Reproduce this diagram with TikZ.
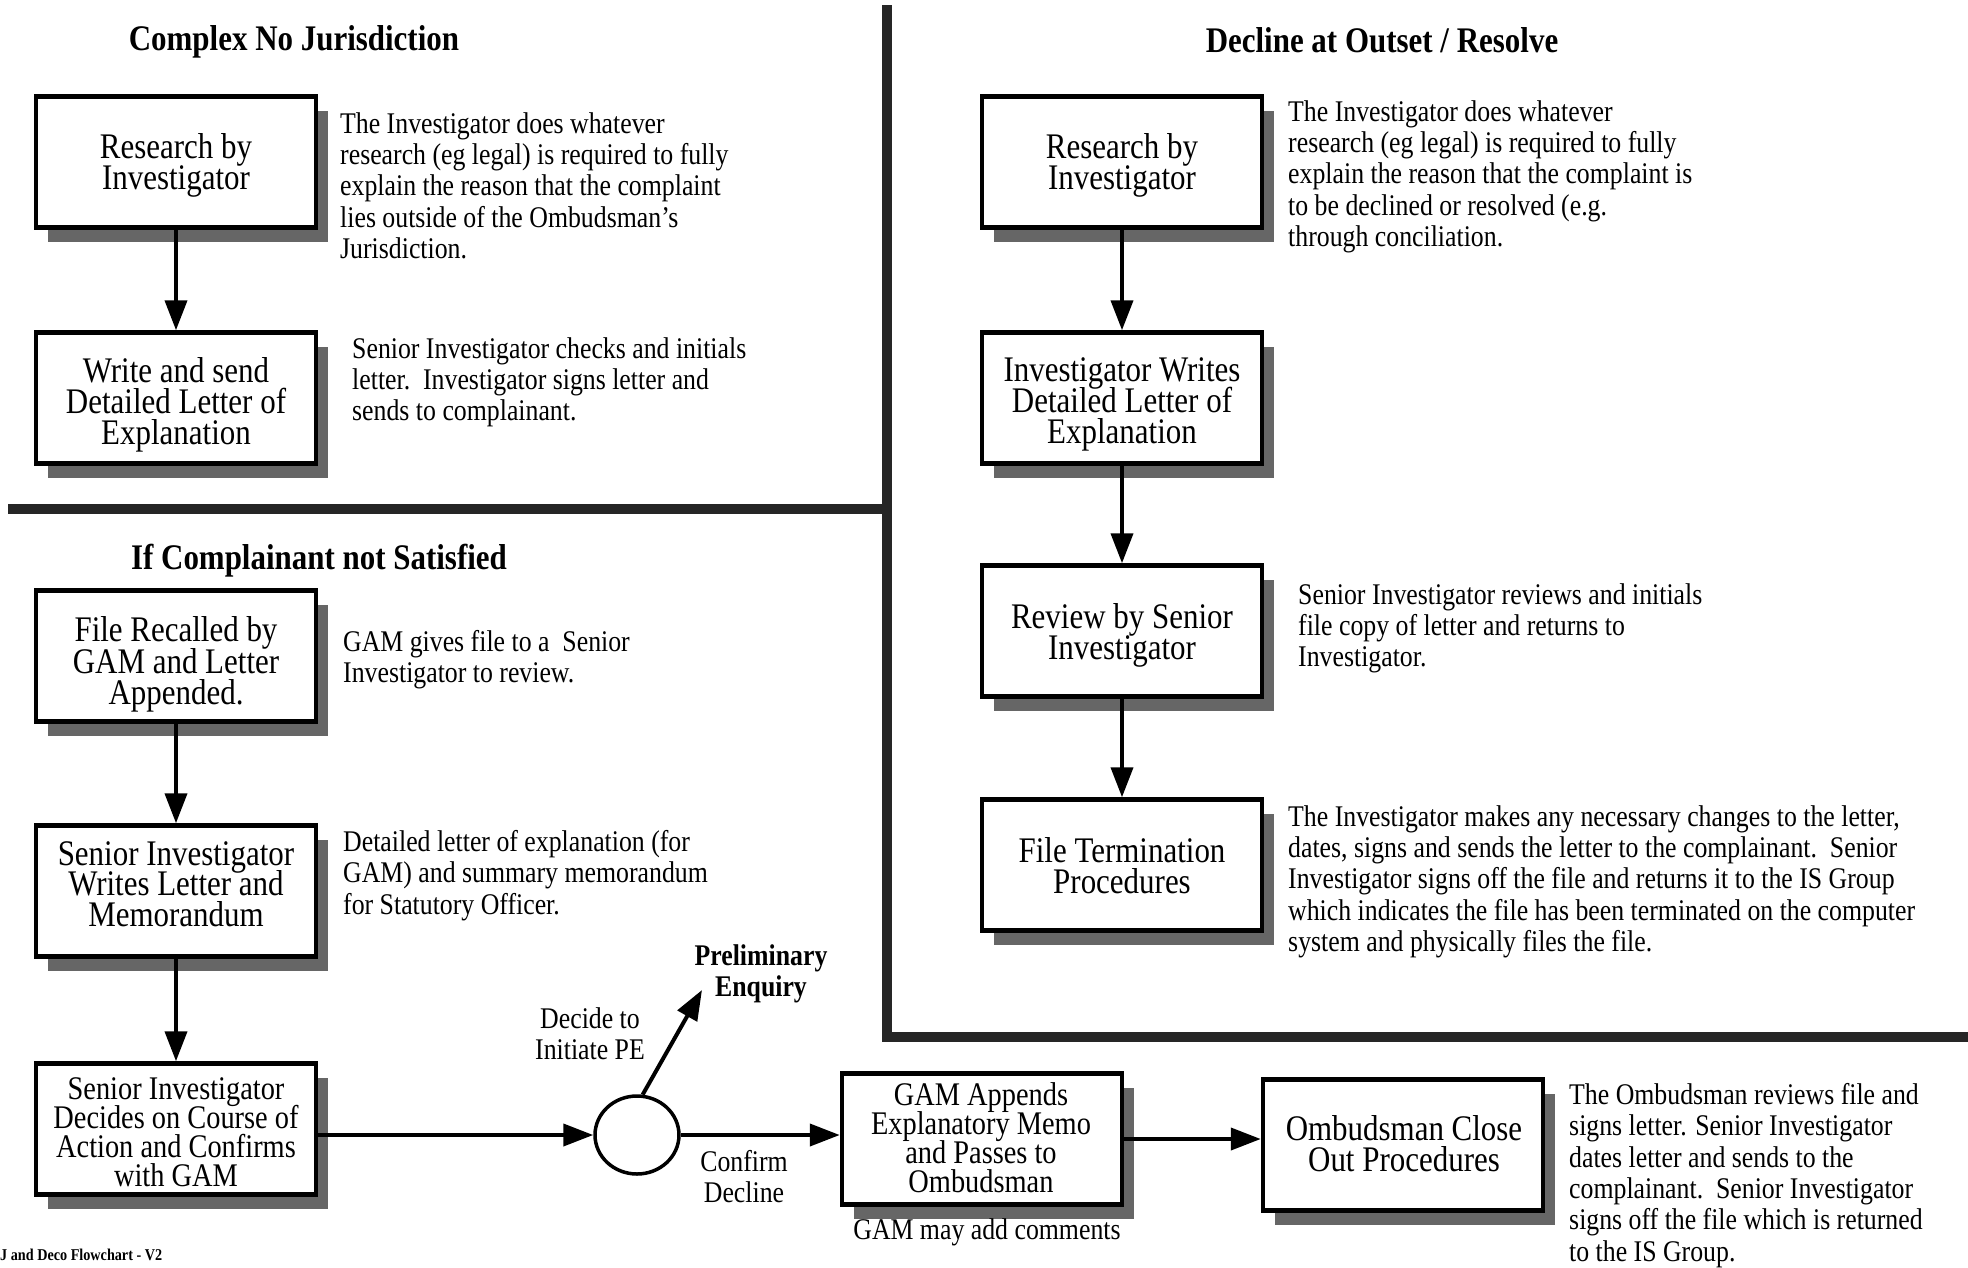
\documentclass[tikz,border=0pt]{standalone}
\usepackage{fontspec}
\setmainfont{Liberation Serif}[FakeStretch=0.86]
\usetikzlibrary{arrows.meta,shadows,shapes.geometric}

\begin{document}
% keep line pitch exactly at the chosen baselineskip
\lineskiplimit=-100pt
\lineskip=0pt
\begin{tikzpicture}[x=1pt,y=-1pt,
  procbox/.style={draw=black, line width=4.5pt, fill=white,
    minimum width=280pt, minimum height=131pt, inner sep=0pt,
    drop shadow={shadow xshift=12pt, shadow yshift=-14pt, fill=black!60, opacity=1}},
  boxtext/.style={anchor=north, inner sep=0pt, align=center,
    font=\fontsize{36}{31.4}\selectfont, execute at begin node={\rule{0pt}{27pt}}},
  boxtextsmall/.style={anchor=north, inner sep=0pt, align=center,
    font=\fontsize{33}{29.3}\selectfont, execute at begin node={\rule{0pt}{25pt}}},
  notetext/.style={anchor=north west, inner sep=0pt, align=left,
    font=\fontsize{30}{31.4}\selectfont},
  headtext/.style={inner sep=0pt, font=\fontsize{36}{38}\selectfont\bfseries},
  edgetext/.style={inner sep=0pt, align=center, font=\fontsize{30}{31}\selectfont},
  boldedge/.style={inner sep=0pt, align=center, font=\fontsize{30}{31}\selectfont\bfseries},
  flowarrow/.style={line width=4pt, -{Triangle[length=30pt,width=22pt]}},
  rulebar/.style={line width=10pt, draw=black!85},
]
\fill[white] (0,0) rectangle (1968,1267);
\useasboundingbox (0,0) rectangle (1968,1267);

% section dividers
\draw[rulebar, line join=miter] (887,5) -- (887,1037) -- (1968,1037);
\draw[rulebar] (8,509) -- (882,509);

% headings
\node[headtext] (T1) at (294,42) {Complex No Jurisdiction};
\node[headtext] (T2) at (1382,40) {Decline at Outset / Resolve};
\node[headtext] (T3) at (319,561) {If Complainant not Satisfied};

% left column
\node[procbox] (L1) at (176,162) {};
\node[procbox] (L2) at (176,398) {};
\node[procbox] (L3) at (176,656) {};
\node[procbox] (L4) at (176,891) {};
\node[procbox] (L5) at (176,1129) {};
\node[boxtext] (L1t) at (176,133) {Research by\\Investigator};
\node[boxtext] (L2t) at (176,357) {Write and send\\Detailed Letter of\\Explanation};
\node[boxtext] (L3t) at (176,616.5) {File Recalled by\\GAM and Letter\\Appended.};
\node[boxtext, font=\fontsize{36}{30.75}\selectfont] (L4t) at (176,841) {Senior Investigator\\Writes Letter and\\Memorandum};
\node[boxtextsmall] (L5t) at (176,1077) {Senior Investigator\\Decides on Course of\\Action and Confirms\\with GAM};

% right column
\node[procbox] (R1) at (1122,162) {};
\node[procbox] (R2) at (1122,398) {};
\node[procbox] (R3) at (1122,631) {};
\node[procbox] (R4) at (1122,865) {};
\node[boxtext] (R1t) at (1122,133) {Research by\\Investigator};
\node[boxtext] (R2t) at (1122,357) {Investigator Writes\\Detailed Letter of\\Explanation};
\node[boxtext] (R3t) at (1122,603) {Review by Senior\\Investigator};
\node[boxtext] (R4t) at (1122,837) {File Termination\\Procedures};

% bottom row
\node[draw, line width=3.5pt, ellipse, minimum width=84pt, minimum height=78pt, inner sep=0pt] (DEC) at (637,1135) {};
\node[procbox] (GAM) at (982,1139) {};
\node[procbox] (OMB) at (1403,1145) {};
\node[boxtextsmall, font=\fontsize{33}{29}\selectfont] (GAMt) at (981,1082) {GAM Appends\\Explanatory Memo\\and Passes to\\Ombudsman};
\node[boxtext] (OMBt) at (1404,1115) {Ombudsman Close\\Out Procedures};

% connectors
\draw[flowarrow] (L1.south) -- (L2.north);
\draw[flowarrow] (L3.south) -- (L4.north);
\draw[flowarrow] (L4.south) -- (L5.north);
\draw[flowarrow] (R1.south) -- (R2.north);
\draw[flowarrow] (R2.south) -- (R3.north);
\draw[flowarrow] (R3.south) -- (R4.north);
\draw[flowarrow] (L5.east |- DEC.west) -- (DEC.west);
\draw[flowarrow] (DEC.east) -- (DEC.east -| GAM.west);
\draw[flowarrow] (GAM.east) -- (GAM.east -| OMB.west);
\coordinate (petip) at (702,990);
\draw[flowarrow] (DEC.82) -- (petip);

% connector labels
\node[boldedge] (PE) at (761,974) {Preliminary\\Enquiry};
\node[edgetext] (init) at (590,1034) {Decide to\\Initiate PE};
\node[edgetext] (conf) at (744,1177) {Confirm\\Decline};
\node[edgetext] (gamc) at (987,1232) {GAM may add comments};

% explanatory notes
\node[notetext] (n1) at (340,112) {The Investigator does whatever\\research (eg legal) is required to fully\\explain the reason that the complaint\\lies outside of the Ombudsman's\\Jurisdiction.};
\node[notetext] (n2) at (352,337) {Senior Investigator checks and initials\\letter.\ \ Investigator signs letter and\\sends to complainant.};
\node[notetext] (n3) at (343,630) {GAM gives file to a\ \ Senior\\Investigator to review.};
\node[notetext] (n4) at (343,830) {Detailed letter of explanation (for\\GAM) and summary memorandum\\for Statutory Officer.};
\node[notetext] (n5) at (1288,100) {The Investigator does whatever\\research (eg legal) is required to fully\\explain the reason that the complaint is\\to be declined or resolved (e.g.\\through conciliation.};
\node[notetext] (n6) at (1298,583) {Senior Investigator reviews and initials\\file copy of letter and returns to\\Investigator.};
\node[notetext] (n7) at (1288,805) {The Investigator makes any necessary changes to the letter,\\dates, signs and sends the letter to the complainant.\ \ Senior\\Investigator signs off the file and returns it to the IS Group\\which indicates the file has been terminated on the computer\\system and physically files the file.};
\node[notetext] (n8) at (1569,1083) {The Ombudsman reviews file and\\signs letter. Senior Investigator\\dates letter and sends to the\\complainant.\ \ Senior Investigator\\signs off the file which is returned\\to the IS Group.};

% footer
\node[anchor=south west, inner sep=0pt, font=\fontsize{16.5}{16.5}\selectfont\bfseries] (foot) at (0,1261) {J and Deco Flowchart - V2};
\end{tikzpicture}
\end{document}
